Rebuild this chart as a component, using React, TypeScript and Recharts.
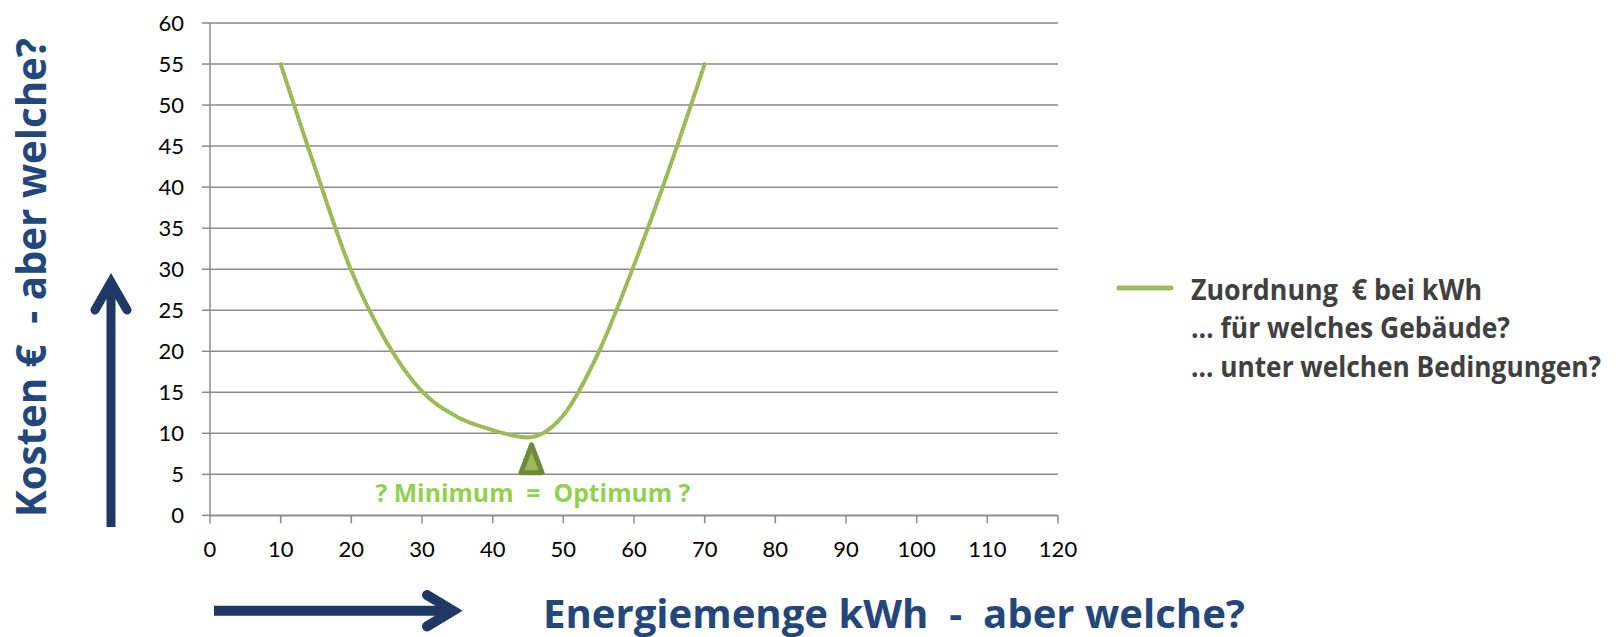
import React from 'react';
import {
  LineChart,
  Line,
  XAxis,
  YAxis,
  CartesianGrid,
  ReferenceLine,
  ReferenceDot,
  Customized,
} from 'recharts';

// Energy amount (kWh) against cost (€)
const energyKwh = [10, 15, 20, 25, 30, 35, 40, 45, 50, 55, 60, 65, 70];
const costEuro = [55, 42, 29.8, 21.1, 15.1, 12.0, 10.4, 9.5, 12.2, 19.9, 30.5, 42.3, 55];

const xTicks = [0, 10, 20, 30, 40, 50, 60, 70, 80, 90, 100, 110, 120];
const yTicks = [0, 5, 10, 15, 20, 25, 30, 35, 40, 45, 50, 55, 60];

// Marker for the cost minimum
const minimumX = 45.5;
const minimumBase = 5.2;
const minimumTip = 8.6;
const minimumLabelX = 45.7;
const minimumLabelY = 1.6;

const seriesName = 'Zuordnung  € bei kWh';
const legendLines = [seriesName, '… für welches Gebäude?', '… unter welchen Bedingungen?'];
const legendWidths = [291, 319, 410];
const yTitle = 'Kosten €  - aber welche?';
const xTitle = 'Energiemenge kWh  -  aber welche?';
const minimumLabel = '? Minimum  =  Optimum ?';

const data = energyKwh.map((x, i) => ({ x, cost: costEuro[i] }));

const FONT = 'Lato, "Open Sans", sans-serif';
const BOLD_FONT = '"Open Sans", Lato, sans-serif';
const GREEN = '#9BBB59';
const NAVY = '#1F3864';
const TITLE_BLUE = '#23477A';
const GRID = '#8a8a8a';

const MinimumMarker = (p: any) => {
  const { x1, y1, x2, y2 } = p;
  const half = 10.5;
  return (
    <path
      d={`M${x2},${y2} L${x1 + half},${y1} L${x1 - half},${y1} Z`}
      fill={GREEN}
      stroke="#6F8A3A"
      strokeWidth={5}
      strokeLinejoin="round"
    />
  );
};

const MinimumText = (p: any) => (
  <text
    x={p.cx}
    y={p.cy}
    textAnchor="middle"
    fontFamily={BOLD_FONT}
    fontWeight={700}
    fontSize={25}
    fill="#92D050"
    textLength={315}
    lengthAdjust="spacingAndGlyphs"
    style={{ whiteSpace: 'pre' }}
  >
    {minimumLabel}
  </text>
);

const Decorations = () => (
  <g>
    {/* vertical axis title and arrow */}
    <text
      x={46}
      y={517}
      transform="rotate(-90, 46, 517)"
      fontFamily={BOLD_FONT}
      fontWeight={700}
      fontSize={42}
      fill={TITLE_BLUE}
      textLength={479}
      lengthAdjust="spacingAndGlyphs"
      style={{ whiteSpace: 'pre' }}
    >
      {yTitle}
    </text>
    <line x1={111} y1={527} x2={111} y2={284} stroke={NAVY} strokeWidth={9} />
    <polyline
      points="95,310 111,282 127,310"
      fill="none"
      stroke={NAVY}
      strokeWidth={9}
      strokeLinecap="round"
      strokeLinejoin="miter"
    />

    {/* horizontal axis title and arrow */}
    <line x1={214} y1={610.7} x2={452} y2={610.7} stroke={NAVY} strokeWidth={10} />
    <polyline
      points="427,595 453,610.7 427,626.4"
      fill="none"
      stroke={NAVY}
      strokeWidth={10}
      strokeLinecap="round"
      strokeLinejoin="miter"
    />
    <text
      x={543}
      y={628}
      fontFamily={BOLD_FONT}
      fontWeight={700}
      fontSize={40}
      fill={TITLE_BLUE}
      textLength={702}
      lengthAdjust="spacingAndGlyphs"
      style={{ whiteSpace: 'pre' }}
    >
      {xTitle}
    </text>

    {/* legend */}
    <line x1={1119} y1={288} x2={1171} y2={288} stroke={GREEN} strokeWidth={5} strokeLinecap="round" />
    {legendLines.map((t, i) => (
      <text
        key={t}
        x={1191}
        y={300 + i * 38.3}
        fontFamily={BOLD_FONT}
        fontWeight={700}
        fontSize={28}
        fill="#404040"
        textLength={legendWidths[i]}
        lengthAdjust="spacingAndGlyphs"
        style={{ whiteSpace: 'pre' }}
      >
        {t}
      </text>
    ))}
  </g>
);

export default function App() {
  return (
    <div style={{ position: 'absolute', left: 0, top: 0, width: 1623, height: 637, background: '#fff' }}>
      <LineChart
        width={1623}
        height={637}
        data={data}
        margin={{ top: 23, right: 565, bottom: 91.6, left: 150 }}
      >
        <CartesianGrid horizontal vertical={false} stroke={GRID} strokeWidth={1.5} />
        <XAxis
          dataKey="x"
          type="number"
          domain={[0, 120]}
          ticks={xTicks}
          interval={0}
          height={30}
          tickSize={8}
          tickMargin={18}
          stroke={GRID}
          strokeWidth={1.5}
          tick={{ fontFamily: FONT, fontSize: 22, fill: '#000' }}
        />
        <YAxis
          type="number"
          domain={[0, 60]}
          ticks={yTicks}
          interval={0}
          width={60}
          tickSize={8}
          tickMargin={18}
          stroke={GRID}
          strokeWidth={1.5}
          tick={{ fontFamily: FONT, fontSize: 22, fill: '#000' }}
        />
        <Line
          name={seriesName}
          dataKey="cost"
          type="monotone"
          stroke={GREEN}
          strokeWidth={4}
          strokeLinecap="round"
          dot={false}
          activeDot={false}
          isAnimationActive={false}
        />
        <ReferenceLine
          segment={[
            { x: minimumX, y: minimumBase },
            { x: minimumX, y: minimumTip },
          ]}
          shape={MinimumMarker}
        />
        <ReferenceDot x={minimumLabelX} y={minimumLabelY} r={0} shape={MinimumText} />
        <Customized component={Decorations} />
      </LineChart>
    </div>
  );
}
